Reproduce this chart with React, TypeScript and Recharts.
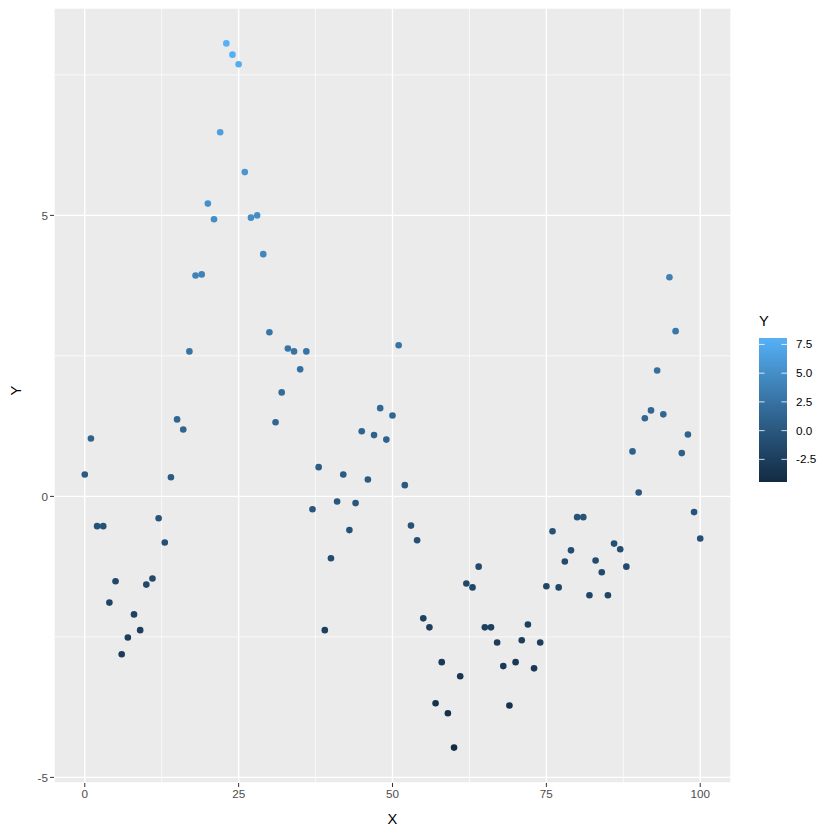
import React from 'react'
import {
  ScatterChart,
  Scatter,
  XAxis,
  YAxis,
  CartesianGrid,
  Cell,
} from 'recharts'

const xValues = [
  0, 1, 2, 3, 4, 5, 6, 7, 8, 9, 10, 11, 12, 13, 14, 15, 16, 17, 18, 19, 20,
  21, 22, 23, 24, 25, 26, 27, 28, 29, 30, 31, 32, 33, 34, 35, 36, 37, 38, 39, 40,
  41, 42, 43, 44, 45, 46, 47, 48, 49, 50, 51, 52, 53, 54, 55, 56, 57, 58, 59, 60,
  61, 62, 63, 64, 65, 66, 67, 68, 69, 70, 71, 72, 73, 74, 75, 76, 77, 78, 79, 80,
  81, 82, 83, 84, 85, 86, 87, 88, 89, 90, 91, 92, 93, 94, 95, 96, 97, 98, 99, 100,
]

const yValues = [
  0.39, 1.03, -0.53, -0.53, -1.89, -1.51, -2.81, -2.51, -2.1, -2.38,
  -1.57, -1.46, -0.39, -0.82, 0.34, 1.37, 1.19, 2.58, 3.93, 3.95,
  5.21, 4.93, 6.48, 8.06, 7.86, 7.69, 5.77, 4.96, 5.0, 4.31,
  2.92, 1.32, 1.85, 2.63, 2.58, 2.26, 2.58, -0.23, 0.52, -2.38,
  -1.1, -0.09, 0.39, -0.6, -0.12, 1.16, 0.3, 1.09, 1.57, 1.01,
  1.44, 2.69, 0.2, -0.52, -0.78, -2.17, -2.33, -3.68, -2.95, -3.86,
  -4.47, -3.2, -1.55, -1.62, -1.25, -2.33, -2.33, -2.6, -3.02, -3.72,
  -2.95, -2.56, -2.28, -3.06, -2.6, -1.6, -0.62, -1.62, -1.16, -0.96,
  -0.37, -0.37, -1.76, -1.14, -1.35, -1.76, -0.84, -0.94, -1.25, 0.8,
  0.07, 1.39, 1.53, 2.24, 1.46, 3.9, 2.94, 0.77, 1.1, -0.28,
  -0.75,
]

const xTicks = [0, 25, 50, 75, 100]
const yTicks = [-5, 0, 5]
const xMinor = [12.5, 37.5, 62.5, 87.5]
const yMinor = [-2.5, 2.5, 7.5]
const legendBreaks = [7.5, 5.0, 2.5, 0.0, -2.5]

const X_DOMAIN: [number, number] = [-5, 105]
const Y_DOMAIN: [number, number] = [-5.1, 8.69]

const LOW = '#132B43'
const HIGH = '#56B1F7'

// colour ramp in CIELAB like ggplot's seq_gradient_pal
const toLin = (c: number) => {
  c /= 255
  return c <= 0.04045 ? c / 12.92 : Math.pow((c + 0.055) / 1.055, 2.4)
}
const fromLin = (c: number) => {
  const v = c <= 0.0031308 ? 12.92 * c : 1.055 * Math.pow(c, 1 / 2.4) - 0.055
  return Math.max(0, Math.min(255, Math.round(v * 255)))
}
const Xn = 0.95047, Yn = 1.0, Zn = 1.08883
const f = (t: number) => (t > 0.008856 ? Math.cbrt(t) : 7.787 * t + 16 / 116)
const fi = (t: number) => (t > 0.206893 ? t * t * t : (t - 16 / 116) / 7.787)

function hexToLab(hex: string) {
  const r = toLin(parseInt(hex.slice(1, 3), 16))
  const g = toLin(parseInt(hex.slice(3, 5), 16))
  const b = toLin(parseInt(hex.slice(5, 7), 16))
  const x = (0.4124 * r + 0.3576 * g + 0.1805 * b) / Xn
  const y = (0.2126 * r + 0.7152 * g + 0.0722 * b) / Yn
  const z = (0.0193 * r + 0.1192 * g + 0.9505 * b) / Zn
  return [116 * f(y) - 16, 500 * (f(x) - f(y)), 200 * (f(y) - f(z))]
}

function labToHex([L, a, b]: number[]) {
  const fy = (L + 16) / 116
  const x = fi(fy + a / 500) * Xn
  const y = fi(fy) * Yn
  const z = fi(fy - b / 200) * Zn
  const r = 3.2406 * x - 1.5372 * y - 0.4986 * z
  const g = -0.9689 * x + 1.8758 * y + 0.0415 * z
  const bb = 0.0557 * x - 0.204 * y + 1.057 * z
  return `rgb(${fromLin(r)},${fromLin(g)},${fromLin(bb)})`
}

const labLow = hexToLab(LOW)
const labHigh = hexToLab(HIGH)
const yMin = Math.min(...yValues)
const yMax = Math.max(...yValues)

function colorFor(v: number) {
  const t = (v - yMin) / (yMax - yMin)
  return labToHex(labLow.map((c, i) => c + (labHigh[i] - c) * t))
}

const data = xValues.map((x, i) => ({ x, y: yValues[i], color: colorFor(yValues[i]) }))

const FONT = '"Liberation Sans", Arial, sans-serif'

// legend bar geometry
const BAR_X = 759
const BAR_W = 28
const BAR_TOP = 338
const BAR_H = 144

function ColourLegend() {
  const stops = [0, 0.25, 0.5, 0.75, 1]
  const barY = (v: number) => BAR_TOP + BAR_H - ((v - yMin) / (yMax - yMin)) * BAR_H
  return (
    <svg
      width={840}
      height={840}
      style={{ position: 'absolute', left: 0, top: 0, pointerEvents: 'none' }}
    >
      <defs>
        <linearGradient id="ybar" x1="0" y1="1" x2="0" y2="0">
          {stops.map((s) => (
            <stop key={s} offset={s} stopColor={colorFor(yMin + s * (yMax - yMin))} />
          ))}
        </linearGradient>
      </defs>
      <text x={BAR_X} y={326} fontSize={14.7} fontFamily={FONT} fill="#000">
        Y
      </text>
      <rect x={BAR_X} y={BAR_TOP} width={BAR_W} height={BAR_H} fill="url(#ybar)" />
      {legendBreaks.map((b) => (
        <g key={b}>
          <line x1={BAR_X} x2={BAR_X + 5.6} y1={barY(b)} y2={barY(b)} stroke="#fff" strokeWidth={0.8} />
          <line x1={BAR_X + BAR_W - 5.6} x2={BAR_X + BAR_W} y1={barY(b)} y2={barY(b)} stroke="#fff" strokeWidth={0.8} />
          <text x={796} y={barY(b) + 4} fontSize={11.7} fontFamily={FONT} fill="#000">
            {b.toFixed(1)}
          </text>
        </g>
      ))}
    </svg>
  )
}

export default function App() {
  return (
    <div
      style={{
        position: 'absolute',
        left: 0,
        top: 0,
        width: 840,
        height: 840,
        background: '#fff',
        fontFamily: FONT,
      }}
    >
      <ScatterChart
        width={840}
        height={840}
        margin={{ top: 8, right: 109, bottom: 0, left: 0 }}
      >
        <CartesianGrid
          fill="#EBEBEB"
          fillOpacity={1}
          stroke="#fff"
          strokeWidth={0.7}
          verticalCoordinatesGenerator={({ offset }: any) =>
            xMinor.map(
              (v) => offset.left + ((v - X_DOMAIN[0]) / (X_DOMAIN[1] - X_DOMAIN[0])) * offset.width
            )
          }
          horizontalCoordinatesGenerator={({ offset }: any) =>
            yMinor.map(
              (v) => offset.top + ((Y_DOMAIN[1] - v) / (Y_DOMAIN[1] - Y_DOMAIN[0])) * offset.height
            )
          }
        />
        <CartesianGrid stroke="#fff" strokeWidth={1.4} />
        <XAxis
          type="number"
          dataKey="x"
          domain={X_DOMAIN}
          ticks={xTicks}
          allowDataOverflow
          height={57}
          axisLine={false}
          tickSize={4}
          tickMargin={3}
          tickLine={{ stroke: '#333333' }}
          tick={{ fill: '#4D4D4D', fontSize: 11.7, fontFamily: FONT }}
          label={{ value: 'X', position: 'insideBottom', offset: 16, fill: '#000', fontSize: 14.7, fontFamily: FONT }}
        />
        <YAxis
          type="number"
          dataKey="y"
          domain={Y_DOMAIN}
          ticks={yTicks}
          allowDataOverflow
          width={54}
          axisLine={false}
          tickSize={4}
          tickMargin={2}
          tickLine={{ stroke: '#333333' }}
          tick={{ fill: '#4D4D4D', fontSize: 11.7, fontFamily: FONT }}
          label={{ value: 'Y', angle: -90, position: 'insideLeft', offset: 16, fill: '#000', fontSize: 14.7, fontFamily: FONT }}
        />
        <Scatter
          data={data}
          isAnimationActive={false}
          shape={(p: any) => <circle cx={p.cx} cy={p.cy} r={3.3} fill={p.payload.color} />}
        >
          {data.map((d, i) => (
            <Cell key={i} fill={d.color} />
          ))}
        </Scatter>
      </ScatterChart>
      <ColourLegend />
    </div>
  )
}
